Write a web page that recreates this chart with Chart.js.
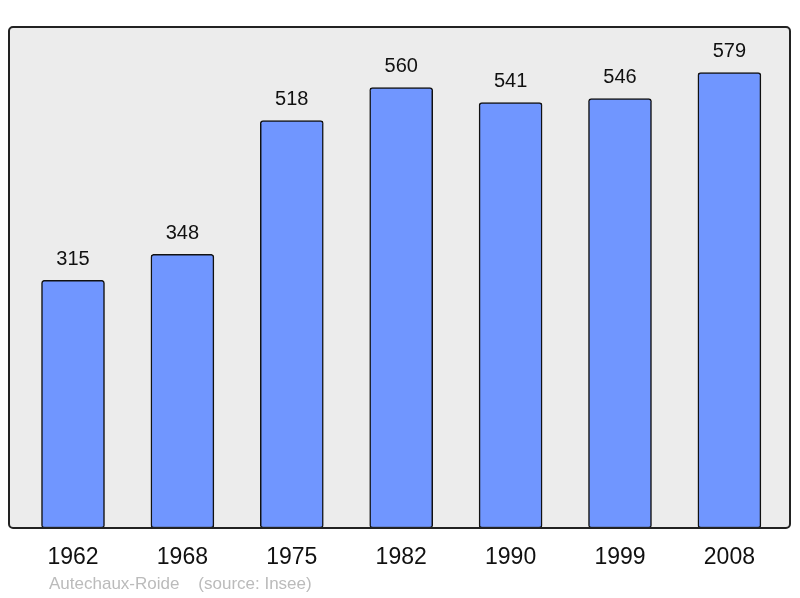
<!DOCTYPE html>
<html>
<head>
<meta charset="utf-8">
<script src="https://cdn.jsdelivr.net/npm/chart.js@4/dist/chart.umd.min.js"></script>
<style>
  body { margin: 0; background: #ffffff; }
  canvas { display: block; }
</style>
</head>
<body>
<canvas id="popChart" width="800" height="598"></canvas>
<script>
var years = ["1962", "1968", "1975", "1982", "1990", "1999", "2008"];
var population = [315, 348, 518, 560, 541, 546, 579];
var footerText = "Autechaux-Roide    (source: Insee)";

var points = [];
for (var i = 0; i < years.length; i++) {
    points.push({x: i, y: population[i]});
}

// grey rounded frame behind the bars, dark outline drawn over them
var framePlugin = {
    id: 'frame',
    beforeDatasetsDraw: function (chart) {
        var a = chart.chartArea;
        var ctx = chart.ctx;
        ctx.save();
        ctx.beginPath();
        ctx.roundRect(a.left, a.top, a.right - a.left, a.bottom - a.top, 4);
        ctx.fillStyle = "#ececec";
        ctx.fill();
        ctx.restore();
    },
    afterDatasetsDraw: function (chart) {
        var a = chart.chartArea;
        var ctx = chart.ctx;
        ctx.save();
        ctx.beginPath();
        ctx.roundRect(a.left, a.top, a.right - a.left, a.bottom - a.top, 4);
        ctx.lineWidth = 2;
        ctx.strokeStyle = "#222222";
        ctx.stroke();

        // value above each bar
        var meta = chart.getDatasetMeta(0);
        ctx.fillStyle = "#111111";
        ctx.font = "20px 'Liberation Sans', Arial, sans-serif";
        ctx.textAlign = "center";
        ctx.textBaseline = "middle";
        meta.data.forEach(function (bar, idx) {
            ctx.fillText(String(population[idx]), bar.x, bar.y - 21);
        });

        ctx.fillStyle = "#bbbbbb";
        ctx.font = "17px 'Liberation Sans', Arial, sans-serif";
        ctx.textAlign = "left";
        ctx.fillText(footerText, 49, 584);
        ctx.restore();
    }
};

var popChart = new Chart(document.getElementById('popChart'), {
    type: 'bar',
    data: {
        datasets: [{
            data: points,
            backgroundColor: "#7096ff",
            borderColor: "#111111",
            borderWidth: 1.5,
            borderRadius: 3,
            borderSkipped: false,
            barThickness: 63
        }]
    },
    options: {
        responsive: false,
        animation: false,
        devicePixelRatio: 1,
        layout: {padding: {left: 9, right: 10, top: 27, bottom: 0}},
        plugins: {legend: {display: false}, tooltip: {enabled: false}},
        scales: {
            x: {
                type: 'linear',
                offset: false,
                min: -0.585,
                max: 6.554,
                grid: {display: false, drawTicks: false, offset: false},
                border: {display: false},
                afterBuildTicks: function (scale) {
                    scale.ticks = years.map(function (y, idx) { return {value: idx}; });
                },
                afterFit: function (scale) { scale.height = 70; },
                ticks: {
                    padding: 16,
                    color: "#111111",
                    font: {family: "'Liberation Sans', Arial, sans-serif", size: 23},
                    callback: function (value) { return years[value]; }
                }
            },
            y: {
                display: false,
                min: 0,
                max: 637
            }
        }
    },
    plugins: [framePlugin]
});
</script>
</body>
</html>
